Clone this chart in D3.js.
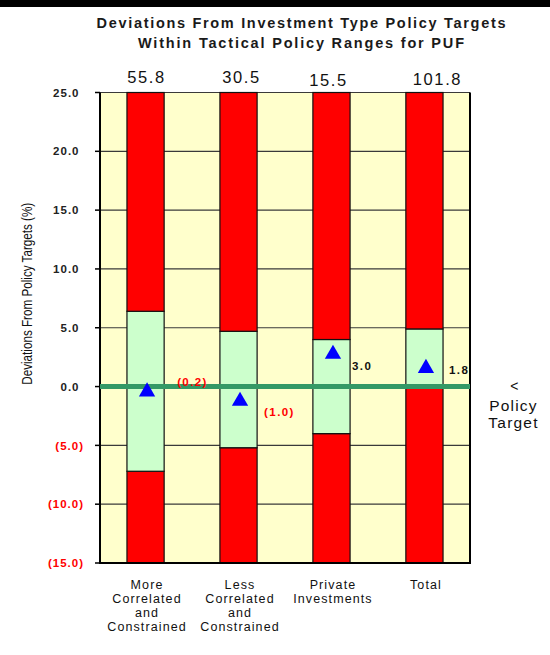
<!DOCTYPE html>
<html>
<head>
<meta charset="utf-8">
<script src="https://cdn.jsdelivr.net/npm/d3@7"></script>
<style>
  html, body { margin: 0; padding: 0; background: #fff; }
  svg { display: block; }
  text { font-family: "Liberation Sans", Arial, sans-serif; }
</style>
</head>
<body>
<svg id="chart" width="550" height="655"></svg>
<script>
// ---------------- DATA ----------------
const titleLines = ["Deviations From Investment Type Policy Targets", "Within Tactical Policy Ranges for PUF"];
const yAxisTitle = "Deviations From Policy Targets (%)";
const categories = ["More Correlated and Constrained", "Less Correlated and Constrained", "Private Investments", "Total"];
const categoryLines = [["More", "Correlated", "and", "Constrained"], ["Less", "Correlated", "and", "Constrained"], ["Private", "Investments"], ["Total"]];
const rangeLow = [-7.2, -5.2, -4.0, 0.0];
const rangeHigh = [6.4, 4.7, 4.0, 4.9];
const deviation = [-0.2, -1.0, 3.0, 1.8];
const topValues = [55.8, 30.5, 15.5, 101.8];
const yTicks = [-15, -10, -5, 0, 5, 10, 15, 20, 25];
const yDomain = [-15, 25];
const targetLabel = ["<", "Policy", "Target"];

// ---------------- LAYOUT ----------------
const plot = { left: 100, right: 470, top: 92.5, bottom: 563 };
const devLabelNudge = [[13, -7], [7, 14], [2, 15], [6, 4]];   // annotation offsets (px) from bar right / marker
const topLabelNudge = [1, 3, -3, 13];
const topLabelBaseline = [83, 83, 85.5, 85];

const fmt = v => v < 0 ? "(" + Math.abs(v).toFixed(1) + ")" : v.toFixed(1);

const svg = d3.select("#chart");

const x = d3.scaleBand().domain(categories).range([plot.left, plot.right]).paddingInner(0.6).paddingOuter(0.29);
const y = d3.scaleLinear().domain(yDomain).range([plot.bottom, plot.top]);

// top black band
svg.append("rect").attr("x", 0).attr("y", 0).attr("width", 550).attr("height", 7).attr("fill", "#000");

// title
const tLens = [409, 326];
svg.selectAll("text.title").data(titleLines).join("text")
  .attr("class", "title")
  .attr("x", 301).attr("y", (d, i) => 27.7 + i * 20)
  .attr("text-anchor", "middle")
  .attr("font-size", 14.5).attr("font-weight", "bold").attr("fill", "#1a1a1a")
  .attr("textLength", (d, i) => tLens[i]).attr("lengthAdjust", "spacing")
  .text(d => d);

// plot background
svg.append("rect").attr("x", plot.left).attr("y", plot.top)
  .attr("width", plot.right - plot.left).attr("height", plot.bottom - plot.top)
  .attr("fill", "#FFFFCC");

// gridlines
svg.append("g").selectAll("line").data(yTicks.filter(t => t !== yDomain[0])).join("line")
  .attr("x1", plot.left).attr("x2", plot.right)
  .attr("y1", d => y(d)).attr("y2", d => y(d))
  .attr("stroke", "#3a3a3a").attr("stroke-width", 1.2);

// bars (stacked segments: out-of-range low, in-range, out-of-range high)
const segs = [];
categories.forEach((c, i) => {
  segs.push({ c, lo: yDomain[0], hi: rangeLow[i], fill: "#FF0000" });
  segs.push({ c, lo: rangeLow[i], hi: rangeHigh[i], fill: "#CCFFCC" });
  segs.push({ c, lo: rangeHigh[i], hi: yDomain[1], fill: "#FF0000" });
});
svg.append("g").selectAll("rect").data(segs).join("rect")
  .attr("x", d => x(d.c)).attr("width", x.bandwidth())
  .attr("y", d => y(d.hi)).attr("height", d => y(d.lo) - y(d.hi))
  .attr("fill", d => d.fill).attr("stroke", "#111").attr("stroke-width", 1.2);

// plot frame
const frame = svg.append("g").attr("stroke", "#000").attr("stroke-width", 2);
frame.append("line").attr("x1", plot.left).attr("x2", plot.left).attr("y1", y(yDomain[1])).attr("y2", y(yDomain[0]) + 1);
frame.append("line").attr("x1", plot.right).attr("x2", plot.right).attr("y1", y(yDomain[1])).attr("y2", y(yDomain[0]) + 1);
frame.append("line").attr("x1", plot.left).attr("x2", plot.right + 1).attr("y1", y(yDomain[0])).attr("y2", y(yDomain[0]));

// y ticks and labels
const yAxis = svg.append("g");
yAxis.selectAll("line").data(yTicks).join("line")
  .attr("x1", plot.left - 5).attr("x2", plot.left)
  .attr("y1", d => y(d)).attr("y2", d => y(d))
  .attr("stroke", "#000").attr("stroke-width", 1.5);
yAxis.selectAll("text").data(yTicks).join("text")
  .attr("x", d => d < 0 ? 84 : 79.5).attr("y", d => y(d)).attr("dy", "0.36em")
  .attr("text-anchor", "end")
  .attr("font-size", 11.5).attr("font-weight", "bold").attr("letter-spacing", 1)
  .attr("fill", d => d < 0 ? "#FF0000" : "#222")
  .text(d => fmt(d));

// y axis title
svg.append("text")
  .attr("transform", `translate(32, ${(y(yDomain[1]) + y(yDomain[0])) / 2 - 34}) rotate(-90)`)
  .attr("text-anchor", "middle")
  .attr("font-family", "'Liberation Sans Narrow', 'Arial Narrow', 'Liberation Sans', sans-serif")
  .attr("font-size", 15).attr("fill", "#111")
  .attr("textLength", 182).attr("lengthAdjust", "spacingAndGlyphs")
  .text(yAxisTitle);

// policy target line
svg.append("line").attr("x1", plot.left).attr("x2", plot.right)
  .attr("y1", y(0)).attr("y2", y(0))
  .attr("stroke", "#339966").attr("stroke-width", 5);

// markers
svg.append("g").selectAll("path").data(deviation).join("path")
  .attr("d", d3.symbol().type(d3.symbolTriangle).size(115))
  .attr("transform", (d, i) => `translate(${x(categories[i]) + x.bandwidth() / 2 + 1.5}, ${y(d) + 2.8})`)
  .attr("fill", "#0000FF");

// deviation labels
svg.append("g").selectAll("text").data(deviation).join("text")
  .attr("x", (d, i) => x(categories[i]) + x.bandwidth() + devLabelNudge[i][0])
  .attr("y", (d, i) => y(d) + devLabelNudge[i][1]).attr("dy", "0.36em")
  .attr("font-size", 11.5).attr("font-weight", "bold").attr("letter-spacing", 1.4)
  .attr("fill", d => d < 0 ? "#FF0000" : "#111")
  .text(d => fmt(d));

// top value labels
svg.append("g").selectAll("text").data(topValues).join("text")
  .attr("x", (d, i) => x(categories[i]) + x.bandwidth() / 2 + topLabelNudge[i])
  .attr("y", (d, i) => topLabelBaseline[i])
  .attr("text-anchor", "middle")
  .attr("font-size", 16.5).attr("letter-spacing", 1.6).attr("fill", "#111")
  .text(d => d.toFixed(1));

// category labels
const cat = svg.append("g").selectAll("text").data(categories).join("text")
  .attr("text-anchor", "middle")
  .attr("font-size", 12.5).attr("letter-spacing", 1.1).attr("fill", "#111");
cat.each(function (c, i) {
  d3.select(this).selectAll("tspan").data(categoryLines[i]).join("tspan")
    .attr("x", x(c) + x.bandwidth() / 2 + 1.5)
    .attr("y", (d, j) => 589 + j * 13.9)
    .text(d => d);
});

// policy target annotation
svg.append("g").selectAll("text").data(targetLabel).join("text")
  .attr("x", (d, i) => i === 0 ? 515 : 513.5)
  .attr("y", (d, i) => i === 0 ? y(0) + 4.5 : 411 + (i - 1) * 17)
  .attr("text-anchor", "middle")
  .attr("font-size", (d, i) => i === 0 ? 14 : 15.5).attr("letter-spacing", 1.2).attr("fill", "#111")
  .text(d => d);
</script>
</body>
</html>
